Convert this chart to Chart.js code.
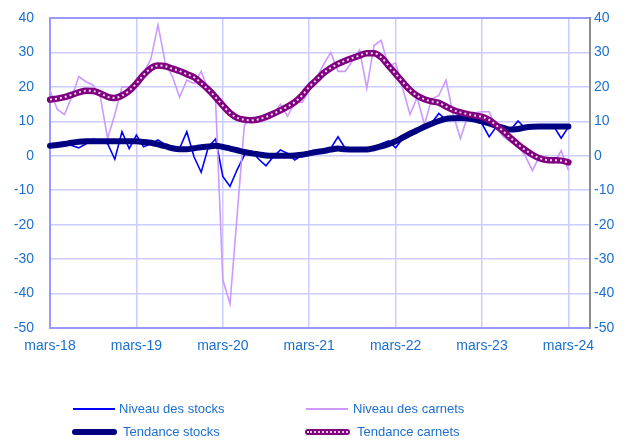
<!DOCTYPE html>
<html>
<head>
<meta charset="utf-8">
<script src="https://cdn.jsdelivr.net/npm/chart.js@4"></script>
<style>
  html, body { margin: 0; padding: 0; background: #fff; }
  #wrap { position: relative; width: 629px; height: 441px; }
  .leg { position: absolute; font-family: "Liberation Sans", Arial, sans-serif; font-size: 13px; color: #1c6fcf; line-height: 16px; }
  .sw { position: absolute; }
</style>
</head>
<body>
<div id="wrap">
  <canvas id="myChart" width="629" height="441"></canvas>

  <div class="sw" style="left:73px;top:408px;width:42px;height:0;border-top:2px solid #0000ff;"></div>
  <div class="leg" style="left:119px;top:401px;">Niveau des stocks</div>
  <div class="sw" style="left:306px;top:408px;width:42px;height:0;border-top:2px solid #cc99ff;"></div>
  <div class="leg" style="left:353px;top:401px;">Niveau des carnets</div>

  <div class="sw" style="left:72px;top:429px;width:45px;height:6px;border-radius:3px;background:#000080;"></div>
  <div class="leg" style="left:123px;top:424px;">Tendance stocks</div>
  <div class="sw" style="left:305px;top:429px;width:45px;height:6px;border-radius:3px;background:#800080;">
    <div style="margin:2px 2px 0 2px;border-top:2px dotted #ffffff;opacity:0.8;"></div>
  </div>
  <div class="leg" style="left:357px;top:424px;">Tendance carnets</div>
</div>

<script>
// Month names used for the category axis (mars-18 ... juin-24)
const monthNames = ["mars", "avr", "mai", "juin", "juil", "août", "sept", "oct", "nov", "déc", "janv", "févr"];
const nMonths = 76;

const yTicks = [-50, -40, -30, -20, -10, 0, 10, 20, 30, 40];

// Niveau des stocks (monthly, mars-18 -> mars-24)
const stocks = [
	2.7, 2.8, 4.1, 3.0, 2.3, 3.5, 4.9, 4.0, 3.5, -1.0,
	7.0, 2.1, 6.0, 2.6, 3.5, 4.6, 3.2, 1.7, 2.2, 7.0,
	-0.3, -4.8, 2.6, 4.9, -6.0, -8.9, -4.0, 0.2, 1.4, -1.0,
	-2.9, -0.3, 1.7, 0.7, -1.2, 0.2, 0.5, 1.2, 1.7, 2.2,
	5.5, 2.2, 1.8, 1.7, 1.7, 2.6, 3.5, 4.3, 2.3, 5.0,
	6.2, 7.4, 8.6, 9.5, 12.3, 10.5, 10.8, 10.8, 10.6, 10.2,
	9.3, 5.5, 8.5, 7.5, 7.6, 10.1, 8.0, 8.3, 8.4, 8.4,
	8.4, 5.1, 8.4
];

// Niveau des carnets
const carnets = [
	19.0, 13.5, 12.0, 17.0, 23.0, 21.5, 20.5, 17.0, 5.0, 12.0,
	20.0, 20.0, 21.0, 24.0, 28.0, 38.0, 27.0, 23.0, 17.0, 22.0,
	21.0, 24.5, 19.0, 16.0, -36.0, -43.0, -17.0, 9.0, 10.5, 10.5,
	11.0, 12.0, 15.0, 11.5, 15.5, 15.5, 19.0, 22.5, 26.5, 30.0,
	24.5, 24.5, 27.5, 30.7, 19.6, 32.0, 33.5, 26.0, 27.0, 19.5,
	12.0, 17.0, 9.0, 16.5, 17.5, 22.0, 12.0, 5.0, 11.5, 12.5,
	12.8, 12.8, 8.0, 5.5, 4.0, 3.0, 0.0, -4.3, 0.0, -1.3,
	-2.2, 1.5, -4.2
];

// Tendance stocks
const stocksTrend = [
	2.9, 3.1, 3.4, 3.8, 4.1, 4.2, 4.2, 4.2, 4.2, 4.2,
	4.2, 4.2, 4.2, 4.0, 3.8, 3.3, 2.8, 2.2, 1.9, 1.9,
	2.2, 2.5, 2.7, 2.9, 2.6, 2.1, 1.6, 1.1, 0.7, 0.4,
	0.1, 0.0, 0.0, 0.0, 0.1, 0.3, 0.7, 1.1, 1.4, 1.8,
	2.1, 1.9, 1.8, 1.8, 1.8, 2.2, 2.7, 3.4, 4.2, 5.3,
	6.4, 7.4, 8.4, 9.3, 10.1, 10.7, 10.9, 11.0, 10.8, 10.5,
	10.0, 9.4, 8.7, 8.1, 7.6, 7.8, 8.2, 8.4, 8.5, 8.5,
	8.5, 8.5, 8.5
];

// Tendance carnets
const carnetsTrend = [
	16.3, 16.6, 17.0, 17.7, 18.4, 18.9, 18.8, 18.1, 17.1, 16.8,
	17.5, 18.9, 21.0, 23.5, 25.4, 26.2, 26.0, 25.3, 24.6, 23.7,
	22.8, 21.1, 19.2, 17.0, 14.6, 12.4, 11.0, 10.5, 10.3, 10.6,
	11.3, 12.2, 13.2, 14.3, 15.6, 17.5, 20.0, 22.0, 24.0, 25.5,
	26.7, 27.6, 28.4, 29.1, 29.8, 29.8, 28.6, 26.2, 23.8, 21.4,
	19.1, 17.4, 16.4, 15.8, 15.4, 14.3, 13.3, 12.6, 12.1, 11.7,
	11.3, 10.4, 8.8, 7.0, 5.1, 3.3, 1.7, 0.3, -0.7, -1.2,
	-1.3, -1.4, -1.9
];

const labels = [];
for (let k = 0; k < nMonths; k++) {
	const yr = 18 + Math.floor((k + 2) / 12);
	labels.push(monthNames[k % 12] + "-" + yr);
}

const tickColor = "#1c6fcf";
const tickFont = { family: "'Liberation Sans', Arial, sans-serif", size: 14 };

const yAxisBase = {
	min: yTicks[0],
	max: yTicks[yTicks.length - 1],
	afterBuildTicks: (scale) => {
		scale.ticks = yTicks.map((v) => ({ value: v }));
	},
	ticks: { color: tickColor, font: tickFont },
};

// fixed widths; drop the label overflow padding so the plot top stays put
function fixWidth(w) {
	return (scale) => {
		scale.width = w;
		scale.paddingTop = 0;
		scale.paddingBottom = 0;
	};
}

const ctx = document.getElementById("myChart").getContext("2d");
const myChart = new Chart(ctx, {
	type: "line",
	data: {
		labels: labels,
		datasets: [
			{
				label: "Tendance carnets (points)",
				data: carnetsTrend,
				borderColor: "rgba(255,255,255,0.85)",
				borderWidth: 2,
				borderDash: [2, 3],
				cubicInterpolationMode: "monotone",
				pointRadius: 0,
			},
			{
				label: "Tendance carnets",
				data: carnetsTrend,
				borderColor: "#800080",
				borderWidth: 6.5,
				cubicInterpolationMode: "monotone",
				borderCapStyle: "round",
				pointRadius: 0,
			},
			{
				label: "Tendance stocks",
				data: stocksTrend,
				borderColor: "#000080",
				borderWidth: 6,
				cubicInterpolationMode: "monotone",
				borderCapStyle: "round",
				pointRadius: 0,
			},
			{
				label: "Niveau des carnets",
				data: carnets,
				borderColor: "#cc99ff",
				borderWidth: 1.6,
				tension: 0,
				pointRadius: 0,
			},
			{
				label: "Niveau des stocks",
				data: stocks,
				borderColor: "#0000ff",
				borderWidth: 1.6,
				tension: 0,
				pointRadius: 0,
			},
		],
	},
	options: {
		responsive: false,
		animation: false,
		layout: { padding: { top: 18, left: 0, right: 0, bottom: 82 } },
		plugins: {
			legend: { display: false },
			tooltip: { enabled: false },
		},
		scales: {
			x: {
				type: "category",
				offset: false,
				afterBuildTicks: (scale) => {
					scale.ticks = scale.ticks.filter((t) => t.value % 12 === 0);
				},
				afterFit: (scale) => {
					scale.height = 31;
				},
				ticks: {
					autoSkip: false,
					maxRotation: 0,
					color: tickColor,
					font: tickFont,
					padding: 10,
					callback: function (value) {
						return this.getLabelForValue(value);
					},
				},
				grid: { color: "#ccccff", lineWidth: 1.5, drawTicks: false },
				border: { color: "#9999ff", width: 2 },
			},
			y: {
				...yAxisBase,
				position: "left",
				afterFit: fixWidth(50),
				ticks: { ...yAxisBase.ticks, padding: 16 },
				grid: {
					color: (c) => (c.tick && c.tick.value === 40 ? "#9999ff" : "#ccccff"),
					lineWidth: (c) => (c.tick && c.tick.value === 40 ? 2 : 1.5),
					drawTicks: false,
				},
				border: { color: "#9999ff", width: 2 },
			},
			y2: {
				...yAxisBase,
				position: "right",
				afterFit: fixWidth(39),
				ticks: { ...yAxisBase.ticks, padding: 4 },
				grid: { display: false, drawTicks: false },
				border: { color: "#8c8c8c", width: 2 },
			},
		},
	},
});
</script>
</body>
</html>
